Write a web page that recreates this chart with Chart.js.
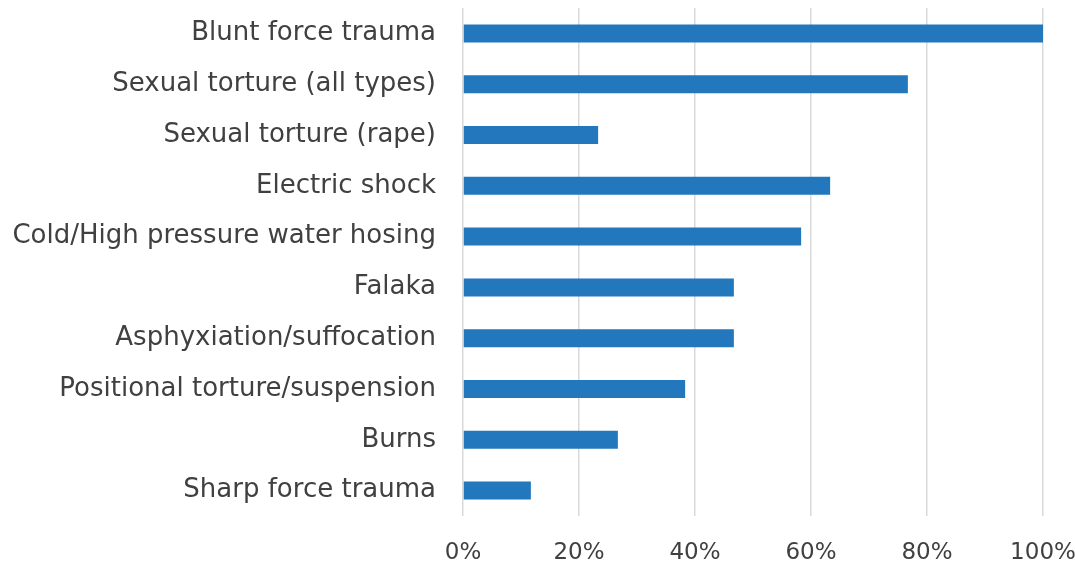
<!DOCTYPE html>
<html>
<head>
<meta charset="utf-8">
<script src="https://cdn.jsdelivr.net/npm/chart.js@4"></script>
<style>
html,body{margin:0;padding:0;background:#fff;}
#wrap{width:1075px;height:564px;position:relative;}
</style>
</head>
<body>
<div id="wrap"><canvas id="c"></canvas></div>
<script>
const categories = [
  "Blunt force trauma",
  "Sexual torture (all types)",
  "Sexual torture (rape)",
  "Electric shock",
  "Cold/High pressure water hosing",
  "Falaka",
  "Asphyxiation/suffocation",
  "Positional torture/suspension",
  "Burns",
  "Sharp force trauma"
];
const percentValues = [100, 76.7, 23.3, 63.3, 58.3, 46.7, 46.7, 38.3, 26.7, 11.7];
const xTickValues = [0, 20, 40, 60, 80, 100];

const FONT = "'DejaVu Sans', sans-serif";
new Chart(document.getElementById('c'), {
  type: 'bar',
  data: {
    labels: categories,
    datasets: [{
      data: percentValues,
      backgroundColor: '#2277BD',
      borderWidth: 0,
      categoryPercentage: 0.71,
      barPercentage: 0.5
    }]
  },
  options: {
    indexAxis: 'y',
    responsive: true,
    maintainAspectRatio: false,
    animation: false,
    layout: { padding: { top: 8, right: 32, left: 0, bottom: 0 } },
    plugins: { legend: { display: false }, tooltip: { enabled: false } },
    scales: {
      x: {
        min: 0, max: 100,
        afterBuildTicks: s => { s.ticks = xTickValues.map(v => ({ value: v })); },
        afterFit: s => { s.height = 48; s.paddingLeft = 0; s.paddingRight = 0; },
        grid: { color: '#D9D9D9', lineWidth: 1.5, drawTicks: false },
        border: { display: false },
        ticks: {
          padding: 23,
          color: '#404040',
          font: { family: FONT, size: 23 },
          callback: v => v + '%'
        }
      },
      y: {
        afterFit: s => { s.width = 463; s.paddingTop = 0; s.paddingBottom = 0; },
        grid: { display: false, drawTicks: false },
        border: { display: false },
        ticks: {
          padding: 27,
          color: '#404040',
          font: { family: FONT, size: 26 }
        }
      }
    }
  }
});
</script>
</body>
</html>
